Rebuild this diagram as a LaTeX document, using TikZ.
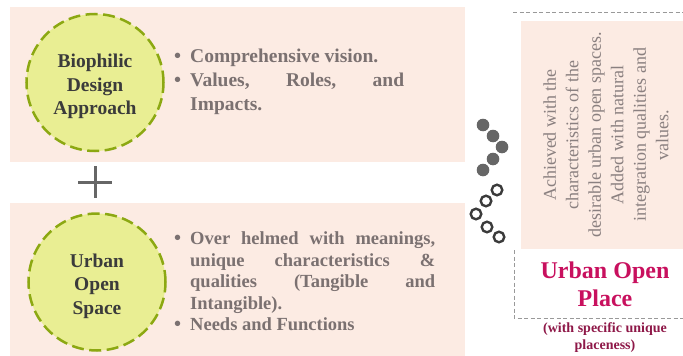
\documentclass[tikz,border=0pt]{standalone}
\usepackage{fontspec}
\setmainfont{Liberation Serif}
\definecolor{boxpink}{HTML}{FCEBE3}
\definecolor{ringfill}{HTML}{E9EE93}
\definecolor{ringline}{HTML}{8CA812}
\definecolor{bodygray}{HTML}{7B7171}
\definecolor{headgray}{HTML}{3B3B3B}
\definecolor{notegray}{HTML}{8A8080}
\definecolor{placered}{HTML}{C8105E}
\definecolor{subred}{HTML}{8E1848}
\definecolor{dotgray}{HTML}{666666}
\newcommand\itembullet{\makebox[16pt][l]{\fontsize{20}{20}\selectfont\textbullet}}
\begin{document}
\begin{tikzpicture}[x=1pt,y=-1pt,
  ring/.style={circle,draw=ringline,fill=ringfill,line width=2.5pt,dash pattern=on 12pt off 5.5pt,
    minimum size=137pt,inner sep=0pt},
  ringtext/.style={align=center,text=headgray,font=\bfseries\fontsize{19.5}{23.5}\selectfont,yshift=-4pt},
  points/.style={anchor=north west,inner sep=0pt,align=justify,text=bodygray},
  frame/.style={draw=gray!80,dash pattern=on 4pt off 2.5pt,line width=0.7pt}]
\useasboundingbox (0,0) rectangle (683,356);
\fill[boxpink] (10,7) rectangle (465,162);
\fill[boxpink] (10,203) rectangle (465,356);
\fill[boxpink] (521,21) rectangle (683,249);
\draw[frame] (513,12) -- (683,12);
\draw[frame] (514,250) -- (514,318) -- (683,318);
\draw[dotgray,line width=3pt] (95,166) -- (95,198) (78,182) -- (112,182);
\node[ring] (biophilic) at (95,82.5) {};
\node[ringtext] (biophilictext) at (biophilic.center) {Biophilic\\Design\\Approach};
\node[ring] (urbanspace) at (97,282) {};
\node[ringtext] (urbanspacetext) at (urbanspace.center) {Urban\\Open\\Space};
\node[points,text width=230pt,font=\bfseries\fontsize{19.5}{24}\selectfont] (biopoints) at (174,48.5)
  {\noindent\hangindent=16pt\hangafter=1\itembullet Comprehensive vision.\par
   \noindent\hangindent=16pt\hangafter=1\itembullet Values, Roles, and\linebreak Impacts.\par};
\node[points,text width=261pt,font=\bfseries\fontsize{18.5}{21.5}\selectfont] (spacepoints) at (174,231.5)
  {\noindent\hangindent=16pt\hangafter=1\itembullet Over helmed with meanings,\linebreak unique characteristics \&\linebreak qualities (Tangible and\linebreak Intangible).\par
   \noindent\hangindent=16pt\hangafter=1\itembullet Needs and Functions\par};
\foreach \p in {(483,125),(493,136),(502,147),(493,159),(483,170)}
  \fill[dotgray] \p circle (6.3pt);
\foreach \p in {(497,190),(486,201),(476,214),(487,227),(499,237)}
  \draw[headgray,line width=2.4pt] \p circle (5.3pt);
\node[rotate=90,align=center,text=notegray,font=\fontsize{18}{22.5}\selectfont] (note) at (606,135)
  {Achieved with the\\characteristics of the\\desirable urban open spaces.\\Added with natural\\integration qualities and\\values.};
\node[align=center,text=placered,font=\bfseries\fontsize{24}{28}\selectfont] (place) at (605,284.5) {Urban Open\\Place};
\node[anchor=north,inner sep=0pt,align=center,text=subred,font=\bfseries\fontsize{14}{17}\selectfont] (placeness) at (605,322)
  {(with specific unique\\placeness)};
\end{tikzpicture}
\end{document}
